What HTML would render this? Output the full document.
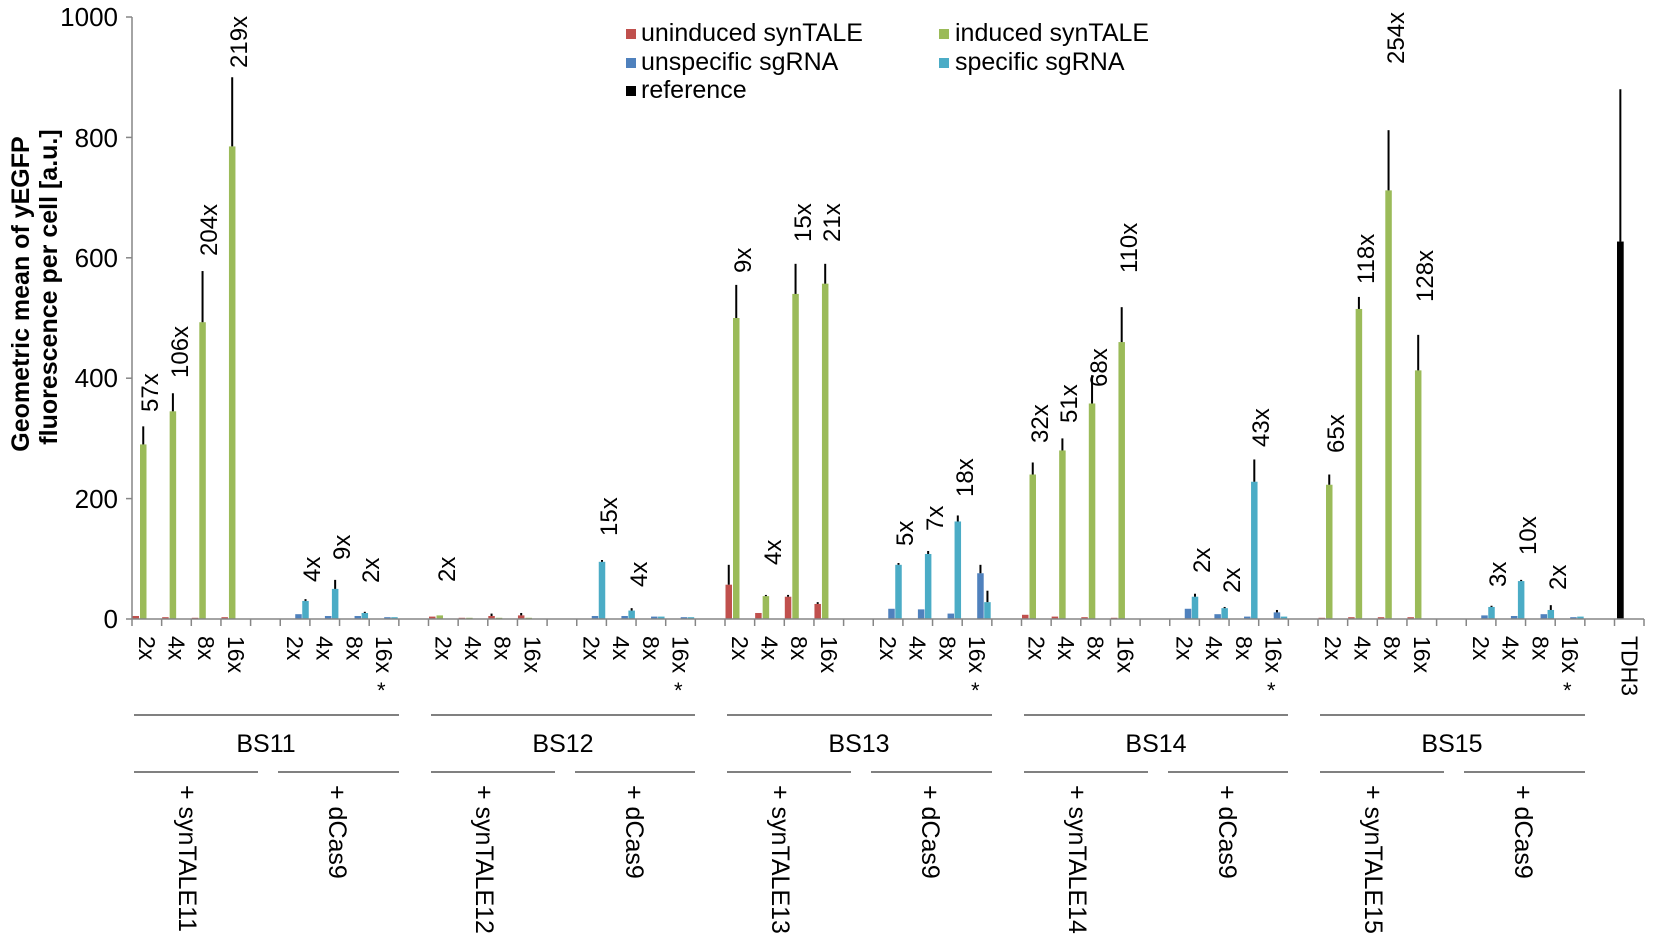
<!DOCTYPE html>
<html><head><meta charset="utf-8"><style>
html,body{margin:0;padding:0;background:#fff;}
svg{display:block;font-family:"Liberation Sans",Arial,sans-serif;}
.r{fill:#c0504d}.g{fill:#9bbb59}.b{fill:#4f81bd}.c{fill:#4bacc6}.k{fill:#000}
.e{stroke:#000;stroke-width:2}
.an{font-size:24px}
.cat{font-size:23px}
</style></head><body>
<svg width="1654" height="943" viewBox="0 0 1654 943" xmlns="http://www.w3.org/2000/svg">
<g transform="translate(132,619) scale(1,-0.602)"><rect class="r" x="0.5" y="0" width="6.5" height="5"/><rect class="g" x="8" y="0" width="6.5" height="290"/><line class="e" x1="11.25" y1="290" x2="11.25" y2="320"/></g>
<g transform="translate(161.65,619) scale(1,-0.602)"><rect class="r" x="0.5" y="0" width="6.5" height="3"/><rect class="g" x="8" y="0" width="6.5" height="345"/><line class="e" x1="11.25" y1="345" x2="11.25" y2="375"/></g>
<g transform="translate(191.3,619) scale(1,-0.602)"><rect class="r" x="0.5" y="0" width="6.5" height="2"/><rect class="g" x="8" y="0" width="6.5" height="493"/><line class="e" x1="11.25" y1="493" x2="11.25" y2="578"/></g>
<g transform="translate(220.95,619) scale(1,-0.602)"><rect class="r" x="0.5" y="0" width="6.5" height="3"/><rect class="g" x="8" y="0" width="6.5" height="785"/><line class="e" x1="11.25" y1="785" x2="11.25" y2="900"/></g>
<g transform="translate(280.25,619) scale(1,-0.602)"><rect class="b" x="15" y="0" width="6.5" height="8"/><rect class="c" x="22" y="0" width="6.5" height="30"/><line class="e" x1="25.25" y1="30" x2="25.25" y2="33"/></g>
<g transform="translate(309.9,619) scale(1,-0.602)"><rect class="b" x="15" y="0" width="6.5" height="5"/><rect class="c" x="22" y="0" width="6.5" height="50"/><line class="e" x1="25.25" y1="50" x2="25.25" y2="65"/></g>
<g transform="translate(339.55,619) scale(1,-0.602)"><rect class="b" x="15" y="0" width="6.5" height="5"/><rect class="c" x="22" y="0" width="6.5" height="10"/><line class="e" x1="25.25" y1="10" x2="25.25" y2="12"/></g>
<g transform="translate(369.2,619) scale(1,-0.602)"><rect class="b" x="15" y="0" width="6.5" height="3"/><rect class="c" x="22" y="0" width="6.5" height="3"/></g>

<g transform="translate(428.5,619) scale(1,-0.602)"><rect class="r" x="0.5" y="0" width="6.5" height="4"/><rect class="g" x="8" y="0" width="6.5" height="6"/></g>
<g transform="translate(458.15,619) scale(1,-0.602)"><rect class="r" x="0.5" y="0" width="6.5" height="2"/><rect class="g" x="8" y="0" width="6.5" height="2"/></g>
<g transform="translate(487.8,619) scale(1,-0.602)"><rect class="r" x="0.5" y="0" width="6.5" height="5"/><line class="e" x1="3.75" y1="5" x2="3.75" y2="9"/><rect class="g" x="8" y="0" width="6.5" height="2"/></g>
<g transform="translate(517.45,619) scale(1,-0.602)"><rect class="r" x="0.5" y="0" width="6.5" height="6"/><line class="e" x1="3.75" y1="6" x2="3.75" y2="10"/><rect class="g" x="8" y="0" width="6.5" height="2"/></g>
<g transform="translate(576.75,619) scale(1,-0.602)"><rect class="b" x="15" y="0" width="6.5" height="5"/><rect class="c" x="22" y="0" width="6.5" height="95"/><line class="e" x1="25.25" y1="95" x2="25.25" y2="98"/></g>
<g transform="translate(606.4,619) scale(1,-0.602)"><rect class="b" x="15" y="0" width="6.5" height="5"/><rect class="c" x="22" y="0" width="6.5" height="14"/><line class="e" x1="25.25" y1="14" x2="25.25" y2="18"/></g>
<g transform="translate(636.05,619) scale(1,-0.602)"><rect class="b" x="15" y="0" width="6.5" height="4"/><rect class="c" x="22" y="0" width="6.5" height="4"/></g>
<g transform="translate(665.7,619) scale(1,-0.602)"><rect class="b" x="15" y="0" width="6.5" height="3"/><rect class="c" x="22" y="0" width="6.5" height="3"/></g>

<g transform="translate(725,619) scale(1,-0.602)"><rect class="r" x="0.5" y="0" width="6.5" height="57"/><line class="e" x1="3.75" y1="57" x2="3.75" y2="90"/><rect class="g" x="8" y="0" width="6.5" height="500"/><line class="e" x1="11.25" y1="500" x2="11.25" y2="555"/></g>
<g transform="translate(754.65,619) scale(1,-0.602)"><rect class="r" x="0.5" y="0" width="6.5" height="10"/><rect class="g" x="8" y="0" width="6.5" height="38"/><line class="e" x1="11.25" y1="38" x2="11.25" y2="40"/></g>
<g transform="translate(784.3,619) scale(1,-0.602)"><rect class="r" x="0.5" y="0" width="6.5" height="37"/><line class="e" x1="3.75" y1="37" x2="3.75" y2="40"/><rect class="g" x="8" y="0" width="6.5" height="540"/><line class="e" x1="11.25" y1="540" x2="11.25" y2="590"/></g>
<g transform="translate(813.95,619) scale(1,-0.602)"><rect class="r" x="0.5" y="0" width="6.5" height="25"/><line class="e" x1="3.75" y1="25" x2="3.75" y2="28"/><rect class="g" x="8" y="0" width="6.5" height="557"/><line class="e" x1="11.25" y1="557" x2="11.25" y2="590"/></g>
<g transform="translate(873.25,619) scale(1,-0.602)"><rect class="b" x="15" y="0" width="6.5" height="17"/><rect class="c" x="22" y="0" width="6.5" height="90"/><line class="e" x1="25.25" y1="90" x2="25.25" y2="93"/></g>
<g transform="translate(902.9,619) scale(1,-0.602)"><rect class="b" x="15" y="0" width="6.5" height="16"/><rect class="c" x="22" y="0" width="6.5" height="108"/><line class="e" x1="25.25" y1="108" x2="25.25" y2="113"/></g>
<g transform="translate(932.55,619) scale(1,-0.602)"><rect class="b" x="15" y="0" width="6.5" height="9"/><rect class="c" x="22" y="0" width="6.5" height="162"/><line class="e" x1="25.25" y1="162" x2="25.25" y2="172"/></g>
<g transform="translate(962.2,619) scale(1,-0.602)"><rect class="b" x="15" y="0" width="6.5" height="76"/><line class="e" x1="18.25" y1="76" x2="18.25" y2="90"/><rect class="c" x="22" y="0" width="6.5" height="28"/><line class="e" x1="25.25" y1="28" x2="25.25" y2="47"/></g>

<g transform="translate(1021.5,619) scale(1,-0.602)"><rect class="r" x="0.5" y="0" width="6.5" height="7"/><rect class="g" x="8" y="0" width="6.5" height="240"/><line class="e" x1="11.25" y1="240" x2="11.25" y2="260"/></g>
<g transform="translate(1051.15,619) scale(1,-0.602)"><rect class="r" x="0.5" y="0" width="6.5" height="4"/><rect class="g" x="8" y="0" width="6.5" height="280"/><line class="e" x1="11.25" y1="280" x2="11.25" y2="300"/></g>
<g transform="translate(1080.8,619) scale(1,-0.602)"><rect class="r" x="0.5" y="0" width="6.5" height="3"/><rect class="g" x="8" y="0" width="6.5" height="358"/><line class="e" x1="11.25" y1="358" x2="11.25" y2="405"/></g>
<g transform="translate(1110.45,619) scale(1,-0.602)"><rect class="r" x="0.5" y="0" width="6.5" height="2"/><rect class="g" x="8" y="0" width="6.5" height="460"/><line class="e" x1="11.25" y1="460" x2="11.25" y2="518"/></g>
<g transform="translate(1169.75,619) scale(1,-0.602)"><rect class="b" x="15" y="0" width="6.5" height="17"/><rect class="c" x="22" y="0" width="6.5" height="37"/><line class="e" x1="25.25" y1="37" x2="25.25" y2="42"/></g>
<g transform="translate(1199.4,619) scale(1,-0.602)"><rect class="b" x="15" y="0" width="6.5" height="8"/><rect class="c" x="22" y="0" width="6.5" height="18"/><line class="e" x1="25.25" y1="18" x2="25.25" y2="20"/></g>
<g transform="translate(1229.05,619) scale(1,-0.602)"><rect class="b" x="15" y="0" width="6.5" height="4"/><rect class="c" x="22" y="0" width="6.5" height="228"/><line class="e" x1="25.25" y1="228" x2="25.25" y2="265"/></g>
<g transform="translate(1258.7,619) scale(1,-0.602)"><rect class="b" x="15" y="0" width="6.5" height="11"/><line class="e" x1="18.25" y1="11" x2="18.25" y2="15"/><rect class="c" x="22" y="0" width="6.5" height="4"/></g>

<g transform="translate(1318,619) scale(1,-0.602)"><rect class="r" x="0.5" y="0" width="6.5" height="2"/><rect class="g" x="8" y="0" width="6.5" height="223"/><line class="e" x1="11.25" y1="223" x2="11.25" y2="240"/></g>
<g transform="translate(1347.65,619) scale(1,-0.602)"><rect class="r" x="0.5" y="0" width="6.5" height="3"/><rect class="g" x="8" y="0" width="6.5" height="515"/><line class="e" x1="11.25" y1="515" x2="11.25" y2="535"/></g>
<g transform="translate(1377.3,619) scale(1,-0.602)"><rect class="r" x="0.5" y="0" width="6.5" height="3"/><rect class="g" x="8" y="0" width="6.5" height="712"/><line class="e" x1="11.25" y1="712" x2="11.25" y2="812"/></g>
<g transform="translate(1406.95,619) scale(1,-0.602)"><rect class="r" x="0.5" y="0" width="6.5" height="3"/><rect class="g" x="8" y="0" width="6.5" height="413"/><line class="e" x1="11.25" y1="413" x2="11.25" y2="472"/></g>
<g transform="translate(1466.25,619) scale(1,-0.602)"><rect class="b" x="15" y="0" width="6.5" height="6"/><rect class="c" x="22" y="0" width="6.5" height="20"/><line class="e" x1="25.25" y1="20" x2="25.25" y2="22"/></g>
<g transform="translate(1495.9,619) scale(1,-0.602)"><rect class="b" x="15" y="0" width="6.5" height="5"/><rect class="c" x="22" y="0" width="6.5" height="63"/><line class="e" x1="25.25" y1="63" x2="25.25" y2="65"/></g>
<g transform="translate(1525.55,619) scale(1,-0.602)"><rect class="b" x="15" y="0" width="6.5" height="8"/><rect class="c" x="22" y="0" width="6.5" height="15"/><line class="e" x1="25.25" y1="15" x2="25.25" y2="23"/></g>
<g transform="translate(1555.2,619) scale(1,-0.602)"><rect class="b" x="15" y="0" width="6.5" height="3"/><rect class="c" x="22" y="0" width="6.5" height="4"/></g>

<g transform="translate(1614.5,619) scale(1,-0.602)"><rect class="k" x="2.5" y="0" width="6.7" height="627"/><line class="e" x1="5.85" y1="627" x2="5.85" y2="880"/></g>

<g stroke="#868686" stroke-width="1.5" fill="none">
<line x1="132" y1="17" x2="132" y2="619"/>
<line x1="126" y1="619" x2="132" y2="619"/><line x1="126" y1="498.6" x2="132" y2="498.6"/><line x1="126" y1="378.2" x2="132" y2="378.2"/><line x1="126" y1="257.8" x2="132" y2="257.8"/><line x1="126" y1="137.4" x2="132" y2="137.4"/><line x1="126" y1="17" x2="132" y2="17"/>
<line x1="132" y1="619" x2="1644" y2="619"/>
<path d="M132 619v7M161.65 619v7M191.3 619v7M220.95 619v7M250.6 619v7M280.25 619v7M309.9 619v7M339.55 619v7M369.2 619v7M398.85 619v7M428.5 619v7M458.15 619v7M487.8 619v7M517.45 619v7M547.1 619v7M576.75 619v7M606.4 619v7M636.05 619v7M665.7 619v7M695.35 619v7M725 619v7M754.65 619v7M784.3 619v7M813.95 619v7M843.6 619v7M873.25 619v7M902.9 619v7M932.55 619v7M962.2 619v7M991.85 619v7M1021.5 619v7M1051.15 619v7M1080.8 619v7M1110.45 619v7M1140.1 619v7M1169.75 619v7M1199.4 619v7M1229.05 619v7M1258.7 619v7M1288.35 619v7M1318 619v7M1347.65 619v7M1377.3 619v7M1406.95 619v7M1436.6 619v7M1466.25 619v7M1495.9 619v7M1525.55 619v7M1555.2 619v7M1584.85 619v7M1614.5 619v7M1644 619v7"/>
</g>

<g font-size="26" text-anchor="end">
<text x="118" y="628">0</text><text x="118" y="508">200</text><text x="118" y="387">400</text><text x="118" y="267">600</text><text x="118" y="147">800</text><text x="118" y="26">1000</text>
</g>
<g font-size="25" font-weight="bold" text-anchor="middle">
<text transform="translate(29,294) rotate(-90)">Geometric mean of yEGFP</text>
<text transform="translate(57,287) rotate(-90)">fluorescence per cell [a.u.]</text>
</g>

<g font-size="25">
<rect x="626" y="29" width="10" height="10" class="r"/><text x="641" y="41">uninduced synTALE</text>
<rect x="939" y="29" width="10" height="10" class="g"/><text x="955" y="41">induced synTALE</text>
<rect x="626" y="58" width="10" height="10" class="b"/><text x="641" y="70">unspecific sgRNA</text>
<rect x="939" y="58" width="10" height="10" class="c"/><text x="955" y="70">specific sgRNA</text>
<rect x="626" y="86" width="10" height="10" class="k"/><text x="641" y="98">reference</text>
</g>

<g class="an" transform="translate(7,0)">
<text transform="translate(151,412) rotate(-90)">57x</text>
<text transform="translate(181,378) rotate(-90)">106x</text>
<text transform="translate(210,256) rotate(-90)">204x</text>
<text transform="translate(240,68) rotate(-90)">219x</text>
<text transform="translate(313,582) rotate(-90)">4x</text>
<text transform="translate(343,560) rotate(-90)">9x</text>
<text transform="translate(372,583) rotate(-90)">2x</text>
<text transform="translate(448,582) rotate(-90)">2x</text>
<text transform="translate(610,536) rotate(-90)">15x</text>
<text transform="translate(640,587) rotate(-90)">4x</text>
<text transform="translate(744,273) rotate(-90)">9x</text>
<text transform="translate(774,565) rotate(-90)">4x</text>
<text transform="translate(804,242) rotate(-90)">15x</text>
<text transform="translate(833,242) rotate(-90)">21x</text>
<text transform="translate(906,546) rotate(-90)">5x</text>
<text transform="translate(936,531) rotate(-90)">7x</text>
<text transform="translate(966,497) rotate(-90)">18x</text>
<text transform="translate(1041,443) rotate(-90)">32x</text>
<text transform="translate(1070,423) rotate(-90)">51x</text>
<text transform="translate(1100,387) rotate(-90)">68x</text>
<text transform="translate(1130,273) rotate(-90)">110x</text>
<text transform="translate(1203,573) rotate(-90)">2x</text>
<text transform="translate(1233,593) rotate(-90)">2x</text>
<text transform="translate(1262,447) rotate(-90)">43x</text>
<text transform="translate(1337,453) rotate(-90)">65x</text>
<text transform="translate(1367,284) rotate(-90)">118x</text>
<text transform="translate(1397,64) rotate(-90)">254x</text>
<text transform="translate(1426,302) rotate(-90)">128x</text>
<text transform="translate(1499,587) rotate(-90)">3x</text>
<text transform="translate(1529,555) rotate(-90)">10x</text>
<text transform="translate(1559,590) rotate(-90)">2x</text>
</g>

<g class="cat">
<text transform="translate(138.8,636) rotate(90)">2x</text><text transform="translate(168.5,636) rotate(90)">4x</text><text transform="translate(198.1,636) rotate(90)">8x</text><text transform="translate(227.8,636) rotate(90)">16x</text>
<text transform="translate(287.1,636) rotate(90)">2x</text><text transform="translate(316.7,636) rotate(90)">4x</text><text transform="translate(346.4,636) rotate(90)">8x</text><text transform="translate(376,636) rotate(90)">16x</text>
<text transform="translate(435.3,636) rotate(90)">2x</text><text transform="translate(465,636) rotate(90)">4x</text><text transform="translate(494.6,636) rotate(90)">8x</text><text transform="translate(524.3,636) rotate(90)">16x</text>
<text transform="translate(583.6,636) rotate(90)">2x</text><text transform="translate(613.2,636) rotate(90)">4x</text><text transform="translate(642.9,636) rotate(90)">8x</text><text transform="translate(672.5,636) rotate(90)">16x</text>
<text transform="translate(731.8,636) rotate(90)">2x</text><text transform="translate(761.5,636) rotate(90)">4x</text><text transform="translate(791.1,636) rotate(90)">8x</text><text transform="translate(820.8,636) rotate(90)">16x</text>
<text transform="translate(880.1,636) rotate(90)">2x</text><text transform="translate(909.7,636) rotate(90)">4x</text><text transform="translate(939.4,636) rotate(90)">8x</text><text transform="translate(969,636) rotate(90)">16x</text>
<text transform="translate(1028.3,636) rotate(90)">2x</text><text transform="translate(1058,636) rotate(90)">4x</text><text transform="translate(1087.6,636) rotate(90)">8x</text><text transform="translate(1117.3,636) rotate(90)">16x</text>
<text transform="translate(1176.6,636) rotate(90)">2x</text><text transform="translate(1206.2,636) rotate(90)">4x</text><text transform="translate(1235.9,636) rotate(90)">8x</text><text transform="translate(1265.5,636) rotate(90)">16x</text>
<text transform="translate(1324.8,636) rotate(90)">2x</text><text transform="translate(1354.5,636) rotate(90)">4x</text><text transform="translate(1384.1,636) rotate(90)">8x</text><text transform="translate(1413.8,636) rotate(90)">16x</text>
<text transform="translate(1473.1,636) rotate(90)">2x</text><text transform="translate(1502.7,636) rotate(90)">4x</text><text transform="translate(1532.4,636) rotate(90)">8x</text><text transform="translate(1562,636) rotate(90)">16x</text>
<text transform="translate(1621.3,636) rotate(90)">TDH3</text>
</g>
<g font-size="22">
<text x="377" y="698">*</text><text x="674" y="698">*</text><text x="971" y="698">*</text><text x="1267" y="698">*</text><text x="1563" y="698">*</text>
</g>

<g stroke="#000" stroke-width="1">
<line x1="134" y1="715" x2="399" y2="715"/><line x1="431" y1="715" x2="695" y2="715"/><line x1="727" y1="715" x2="992" y2="715"/><line x1="1024" y1="715" x2="1288" y2="715"/><line x1="1320" y1="715" x2="1585" y2="715"/>
<line x1="134" y1="772" x2="258" y2="772"/><line x1="278" y1="772" x2="399" y2="772"/>
<line x1="431" y1="772" x2="555" y2="772"/><line x1="575" y1="772" x2="695" y2="772"/>
<line x1="727" y1="772" x2="851" y2="772"/><line x1="871" y1="772" x2="992" y2="772"/>
<line x1="1024" y1="772" x2="1148" y2="772"/><line x1="1168" y1="772" x2="1288" y2="772"/>
<line x1="1320" y1="772" x2="1444" y2="772"/><line x1="1464" y1="772" x2="1585" y2="772"/>
</g>
<g font-size="25" text-anchor="middle">
<text x="266" y="752">BS11</text><text x="563" y="752">BS12</text><text x="859" y="752">BS13</text><text x="1156" y="752">BS14</text><text x="1452" y="752">BS15</text>
</g>
<g font-size="25">
<text transform="translate(179,785) rotate(90)">+ synTALE11</text>
<text transform="translate(329,785) rotate(90)">+ dCas9</text>
<text transform="translate(476,785) rotate(90)">+ synTALE12</text>
<text transform="translate(626,785) rotate(90)">+ dCas9</text>
<text transform="translate(772,785) rotate(90)">+ synTALE13</text>
<text transform="translate(922,785) rotate(90)">+ dCas9</text>
<text transform="translate(1069,785) rotate(90)">+ synTALE14</text>
<text transform="translate(1219,785) rotate(90)">+ dCas9</text>
<text transform="translate(1365,785) rotate(90)">+ synTALE15</text>
<text transform="translate(1515,785) rotate(90)">+ dCas9</text>
</g>
</svg>
</body></html>
